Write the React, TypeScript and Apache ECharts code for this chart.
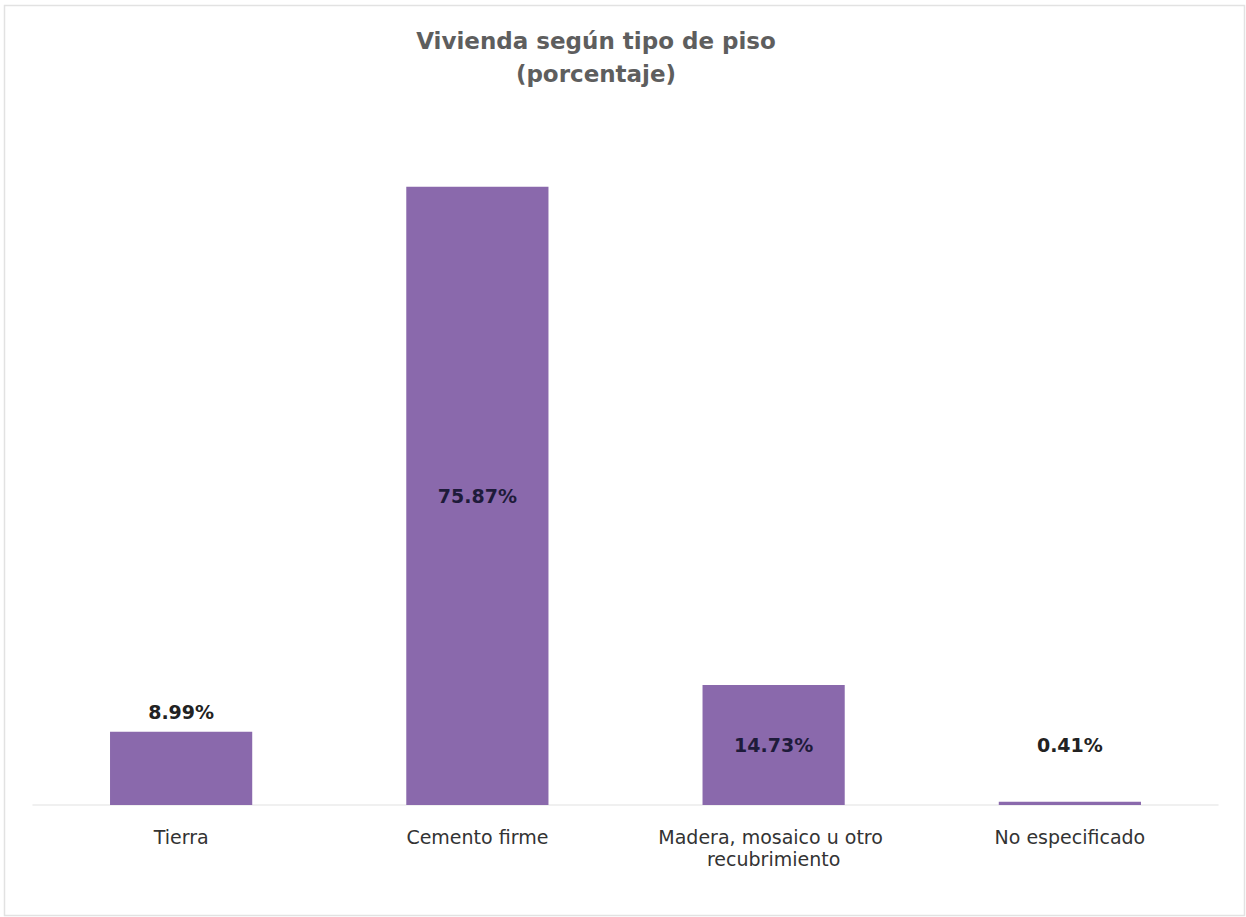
import React, { useEffect, useRef } from "react";
import * as echarts from "echarts";

const categories = ["Tierra", "Cemento firme", "Madera, mosaico u otro recubrimiento", "No especificado"];
const values = [8.99, 75.87, 14.73, 0.41];
const labelPositions = ["top", "inside", "inside", "top"];
const labelDistances = [10, 0, 0, 47];
const titleLines = ["Vivienda según tipo de piso", "(porcentaje)"];

export default function App() {
  const ref = useRef<HTMLDivElement>(null);
  useEffect(() => {
    document.body.style.margin = "0";
    const chart = echarts.init(ref.current!, null, { renderer: "svg" });
    chart.setOption({
      animation: false,
      backgroundColor: "#ffffff",
      title: {
        text: titleLines.join("\n"),
        left: 591,
        textAlign: "center",
        top: 19,
        textStyle: {
          fontFamily: "DejaVu Sans",
          fontSize: 23,
          fontWeight: "bold",
          color: "#5e5e5e",
          lineHeight: 33,
          align: "center",
        },
      },
      graphic: [
        {
          type: "rect",
          shape: { x: 4.5, y: 5.5, width: 1240, height: 910 },
          style: { fill: "none", stroke: "#e2e2e2", lineWidth: 1.5 },
          silent: true,
        },
      ],
      grid: { left: 33, right: 28, top: 153, bottom: 112 },
      xAxis: {
        type: "category",
        data: categories,
        axisLine: { show: true, lineStyle: { color: "#ebebeb", width: 1.5 } },
        axisTick: { show: false },
        axisLabel: {
          interval: 0,
          margin: 21,
          fontFamily: "DejaVu Sans",
          fontSize: 19,
          color: "#333333",
          lineHeight: 22,
          width: 280,
          overflow: "break",
        },
      },
      yAxis: {
        type: "value",
        min: 0,
        max: 80,
        show: false,
        splitLine: { show: false },
      },
      series: [
        {
          type: "bar",
          barWidth: "48%",
          itemStyle: { color: "#8a69ac" },
          data: values.map((v, i) => ({
            value: v,
            label: {
              show: true,
              position: labelPositions[i],
              distance: labelDistances[i],
              formatter: (p: any) => p.value.toFixed(2) + "%",
              fontFamily: "DejaVu Sans",
              fontSize: 19,
              fontWeight: "bold",
              color: labelPositions[i] === "inside" ? "#1e1b3a" : "#222222",
            },
          })),
        },
      ],
    });
    return () => chart.dispose();
  }, []);
  return <div ref={ref} style={{ width: 1246, height: 917 }} />;
}
